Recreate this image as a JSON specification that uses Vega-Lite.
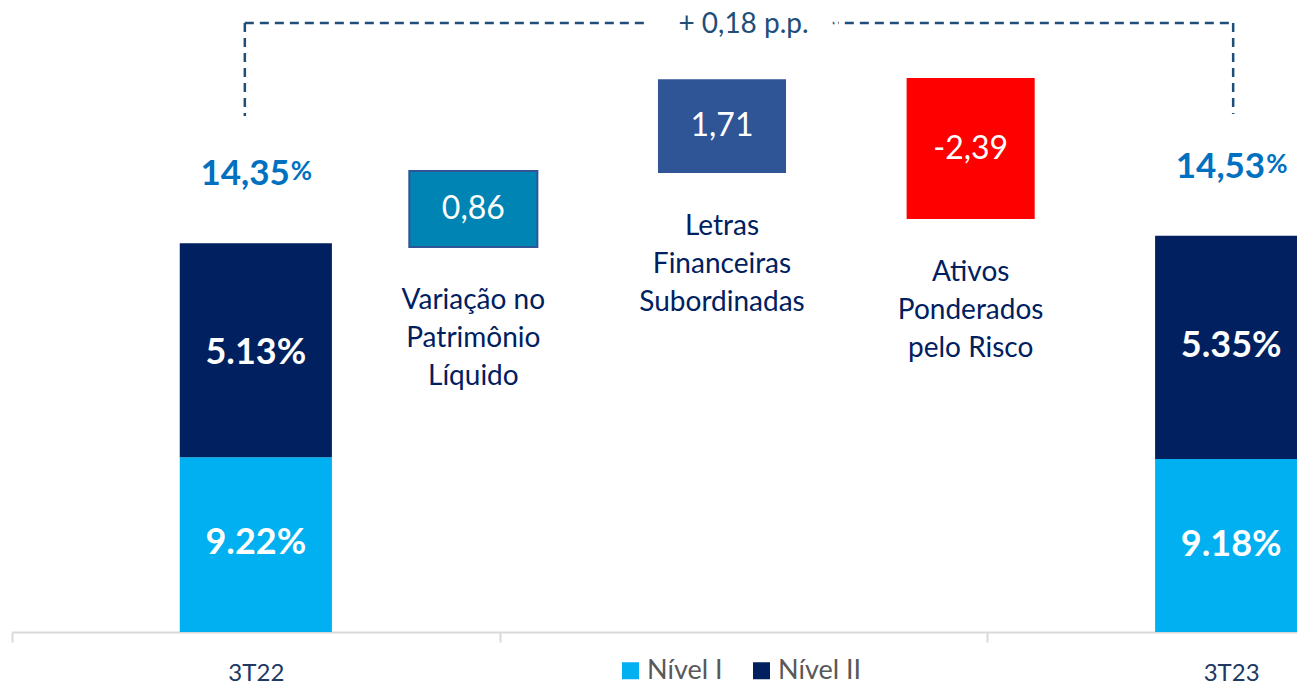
{
  "$schema": "https://vega.github.io/schema/vega-lite/v6.json",
  "width": 1285,
  "height": 632,
  "autosize": {"type": "none"},
  "padding": {"left": 12, "top": 0, "right": 0, "bottom": 54},
  "background": "#ffffff",
  "config": {"view": {"stroke": null}, "font": "Lato", "text": {"font": "Lato"}},
  "datasets": {
    "levels": [
      {"cat": "3T22", "level": "Nível I", "value": 9.22, "label": "9.22%"},
      {"cat": "3T22", "level": "Nível II", "value": 5.13, "label": "5.13%"},
      {"cat": "3T23", "level": "Nível I", "value": 9.18, "label": "9.18%"},
      {"cat": "3T23", "level": "Nível II", "value": 5.35, "label": "5.35%"}
    ],
    "totals": [
      {"cat": "3T22", "total": 14.35, "num": "14,35"},
      {"cat": "3T23", "total": 14.53, "num": "14,53"}
    ],
    "bracket": [
      {"cat": "3T22", "top": 19.63, "bottom": 17.4},
      {"cat": "3T23", "top": 19.63, "bottom": 17.45}
    ],
    "span": [
      {"cat": "3T22", "cat2": "3T23", "top": 19.63}
    ],
    "note": [
      {"cat": "mid", "top": 19.63, "note": "+ 0,18 p.p."}
    ],
    "steps": [
      {"step": "PL", "part": "base", "v": 14.26, "label": "", "name": "Variação no\nPatrimônio\nLíquido"},
      {"step": "PL", "part": "box", "v": 1.82, "label": "0,86", "name": ""},
      {"step": "LFS", "part": "base", "v": 16.03, "label": "", "name": "Letras\nFinanceiras\nSubordinadas"},
      {"step": "LFS", "part": "box", "v": 2.25, "label": "1,71", "name": ""},
      {"step": "RWA", "part": "base", "v": 14.93, "label": "", "name": "Ativos\nPonderados\npelo Risco"},
      {"step": "RWA", "part": "box", "v": 3.38, "label": "-2,39", "name": ""}
    ]
  },
  "layer": [
    {
      "encoding": {
        "x": {
          "field": "cat",
          "type": "nominal",
          "scale": {"domain": ["3T22", "mid", "3T23"], "range": [0, 1463], "paddingInner": 0, "paddingOuter": 0},
          "axis": {
            "title": null,
            "labelAngle": 0,
            "tickBand": "extent",
            "domainColor": "#D9D9D9",
            "domainWidth": 2,
            "tickColor": "#D9D9D9",
            "tickWidth": 2,
            "tickSize": 10,
            "labelFont": "Lato",
            "labelFontSize": 24,
            "labelColor": "#203864",
            "labelPadding": 19,
            "labelExpr": "datum.value == 'mid' ? '' : datum.value",
            "grid": false
          }
        }
      },
      "layer": [
        {
          "data": {"name": "levels"},
          "mark": {"type": "bar", "width": {"band": 0.312}, "clip": true},
          "encoding": {
            "y": {"field": "value", "type": "quantitative", "stack": "zero", "scale": {"domain": [5.03, 20.18], "zero": false, "nice": false}, "axis": null},
            "order": {"field": "level", "type": "nominal", "sort": "ascending"},
            "color": {
              "field": "level",
              "type": "nominal",
              "scale": {"domain": ["Nível I", "Nível II"], "range": ["#00B0F0", "#002060"]},
              "legend": {
                "orient": "none",
                "legendX": 605,
                "legendY": 657,
                "direction": "horizontal",
                "title": null,
                "symbolType": "square",
                "symbolSize": 289,
                "symbolStrokeWidth": 0,
                "labelFont": "Lato",
                "labelFontSize": 27,
                "labelColor": "#595959",
                "labelOffset": 3,
                "columnPadding": 25,
                "padding": 0
              }
            }
          }
        },
        {
          "data": {"name": "levels"},
          "mark": {"type": "text", "fontSize": 36, "fontWeight": "bold", "fill": "#ffffff", "baseline": "middle", "dy": 110},
          "encoding": {
            "y": {"field": "value", "type": "quantitative", "stack": "zero", "scale": {"domain": [5.03, 20.18], "zero": false, "nice": false}, "axis": null},
            "detail": {"field": "level"},
            "order": {"field": "level", "type": "nominal", "sort": "ascending"},
            "text": {"condition": {"test": "datum.level == 'Nível II'", "field": "label"}, "value": ""}
          }
        },
        {
          "data": {"name": "levels"},
          "mark": {"type": "text", "fontSize": 36, "fontWeight": "bold", "fill": "#ffffff", "baseline": "middle", "dy": 86},
          "encoding": {
            "y": {"field": "value", "type": "quantitative", "stack": "zero", "scale": {"domain": [5.03, 20.18], "zero": false, "nice": false}, "axis": null},
            "detail": {"field": "level"},
            "order": {"field": "level", "type": "nominal", "sort": "ascending"},
            "text": {"condition": {"test": "datum.level == 'Nível I'", "field": "label"}, "value": ""}
          }
        },
        {
          "data": {"name": "totals"},
          "mark": {"type": "text", "fontSize": 35, "fontWeight": "bold", "fill": "#0070C0", "align": "right", "dx": 34, "dy": -58, "baseline": "alphabetic"},
          "encoding": {
            "y": {"field": "total", "type": "quantitative", "scale": {"domain": [5.03, 20.18], "zero": false, "nice": false}, "axis": null},
            "text": {"field": "num"}
          }
        },
        {
          "data": {"name": "totals"},
          "mark": {"type": "text", "fontSize": 26, "fontWeight": "bold", "fill": "#0070C0", "align": "left", "dx": 35, "dy": -63, "baseline": "alphabetic", "text": "%"},
          "encoding": {
            "y": {"field": "total", "type": "quantitative", "scale": {"domain": [5.03, 20.18], "zero": false, "nice": false}, "axis": null}
          }
        },
        {
          "data": {"name": "bracket"},
          "transform": [{"filter": "datum.cat == '3T22'"}],
          "mark": {"type": "rule", "color": "#1F4E79", "strokeWidth": 2.5, "strokeDash": [9, 6], "xOffset": -11},
          "encoding": {
            "y": {"field": "top", "type": "quantitative", "scale": {"domain": [5.03, 20.18], "zero": false, "nice": false}, "axis": null},
            "y2": {"field": "bottom"}
          }
        },
        {
          "data": {"name": "bracket"},
          "transform": [{"filter": "datum.cat == '3T23'"}],
          "mark": {"type": "rule", "color": "#1F4E79", "strokeWidth": 2.5, "strokeDash": [9, 6], "xOffset": 2},
          "encoding": {
            "y": {"field": "top", "type": "quantitative", "scale": {"domain": [5.03, 20.18], "zero": false, "nice": false}, "axis": null},
            "y2": {"field": "bottom"}
          }
        },
        {
          "data": {"name": "span"},
          "mark": {"type": "rule", "color": "#1F4E79", "strokeWidth": 2.5, "strokeDash": [9, 6], "xOffset": -11, "x2Offset": 2},
          "encoding": {
            "x2": {"field": "cat2"},
            "y": {"field": "top", "type": "quantitative", "scale": {"domain": [5.03, 20.18], "zero": false, "nice": false}, "axis": null}
          }
        },
        {
          "data": {"name": "note"},
          "mark": {"type": "text", "fontSize": 28, "fill": "#ffffff", "stroke": "#ffffff", "strokeWidth": 64, "strokeJoin": "round", "baseline": "alphabetic", "dy": 10},
          "encoding": {
            "y": {"field": "top", "type": "quantitative", "scale": {"domain": [5.03, 20.18], "zero": false, "nice": false}, "axis": null},
            "text": {"field": "note"}
          }
        },
        {
          "data": {"name": "note"},
          "mark": {"type": "text", "fontSize": 28, "fill": "#1F4E79", "baseline": "alphabetic", "dy": 10},
          "encoding": {
            "y": {"field": "top", "type": "quantitative", "scale": {"domain": [5.03, 20.18], "zero": false, "nice": false}, "axis": null},
            "text": {"field": "note"}
          }
        }
      ]
    },
    {
      "data": {"name": "steps"},
      "encoding": {
        "x": {
          "field": "step",
          "type": "nominal",
          "scale": {"domain": ["PL", "LFS", "RWA"], "range": [337, 1083], "paddingInner": 0, "paddingOuter": 0},
          "axis": null
        }
      },
      "layer": [
        {
          "mark": {"type": "bar", "width": {"band": 0.515}, "clip": true, "strokeWidth": 2},
          "encoding": {
            "y": {"field": "v", "type": "quantitative", "stack": "zero", "scale": {"domain": [5.03, 20.18], "zero": false, "nice": false}, "axis": null},
            "detail": {"field": "part"},
            "order": {"field": "part", "type": "nominal", "sort": "ascending"},
            "fill": {
              "condition": [
                {"test": "datum.part == 'base'", "value": "transparent"},
                {"test": "datum.step == 'PL'", "value": "#0084B4"},
                {"test": "datum.step == 'LFS'", "value": "#2F5597"}
              ],
              "value": "#FF0000"
            },
            "stroke": {
              "condition": {"test": "datum.part == 'box' && datum.step == 'PL'", "value": "#2F5597"},
              "value": "transparent"
            }
          }
        },
        {
          "mark": {"type": "text", "fontSize": 32, "fill": "#ffffff", "baseline": "middle"},
          "encoding": {
            "y": {"field": "v", "type": "quantitative", "stack": "zero", "bandPosition": 0.5, "scale": {"domain": [5.03, 20.18], "zero": false, "nice": false}, "axis": null},
            "detail": {"field": "part"},
            "order": {"field": "part", "type": "nominal", "sort": "ascending"},
            "text": {"field": "label"}
          }
        },
        {
          "transform": [{"filter": "datum.part == 'base'"}],
          "mark": {"type": "text", "fontSize": 28, "fill": "#002060", "baseline": "alphabetic", "dy": 62, "lineBreak": "\n", "lineHeight": 38},
          "encoding": {
            "y": {"field": "v", "type": "quantitative", "scale": {"domain": [5.03, 20.18], "zero": false, "nice": false}, "axis": null},
            "text": {"field": "name"}
          }
        }
      ]
    }
  ],
  "resolve": {"scale": {"x": "independent"}}
}
